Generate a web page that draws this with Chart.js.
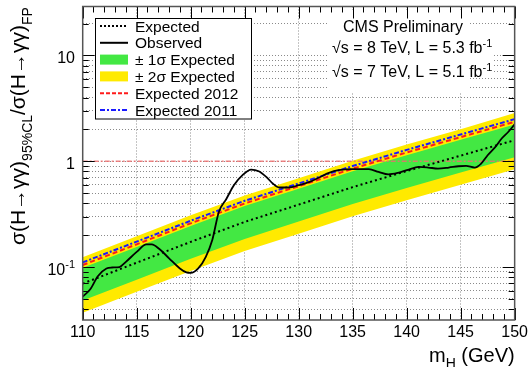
<!DOCTYPE html>
<html>
<head>
<meta charset="utf-8">
<script src="https://cdn.jsdelivr.net/npm/chart.js@4.4.1/dist/chart.umd.min.js"></script>
<style>
  body { margin: 0; background: #fff; }
  canvas { display: block; }
</style>
</head>
<body>
<canvas id="limitPlot" width="531" height="367"></canvas>
<script>
const FONT = '"Liberation Sans", Arial, Helvetica, sans-serif';

// expected limit + bands, read at 5 GeV steps
const expMass = [110, 115, 120, 125, 130, 135, 140, 145, 150];
const expMedian = [0.0698, 0.110, 0.173, 0.267, 0.389, 0.569, 0.807, 1.13, 1.58];
const expPlus2 = [0.124, 0.195, 0.308, 0.474, 0.692, 1.01, 1.44, 2.01, 2.85];
const expPlus1 = [0.0986, 0.155, 0.244, 0.377, 0.55, 0.804, 1.14, 1.60, 2.23];
const expMinus1 = [0.0483, 0.076, 0.1197, 0.1845, 0.269, 0.394, 0.558, 0.783, 1.09];
const expMinus2 = [0.0371, 0.0583, 0.0918, 0.1416, 0.2065, 0.302, 0.4285, 0.601, 0.838];
const exp2012 = [0.1045, 0.164, 0.259, 0.399, 0.582, 0.851, 1.21, 1.69, 2.36];
const exp2011 = [0.1107, 0.174, 0.274, 0.423, 0.617, 0.902, 1.28, 1.79, 2.50];

// observed limit
const obsMass = [110.0, 110.7, 111.4, 112.2, 112.7, 113.4, 114.0, 115.0, 115.9, 116.4,
  117.1, 118.0, 119.0, 119.6, 120.0, 120.7, 121.4, 122.0, 122.6, 123.3,
  124.0, 124.8, 125.6, 126.3, 127.0, 127.6, 128.2, 129.1, 130.0, 131.0,
  131.9, 132.8, 133.7, 135.0, 136.5, 137.4, 138.3, 139.2, 140.2, 141.1,
  142.0, 142.9, 143.9, 144.8, 145.5, 146.3, 146.9, 147.5, 148.2, 148.8,
  149.4, 150.0];
const obsLimit = [0.0525, 0.0616, 0.082, 0.097, 0.099, 0.100, 0.112, 0.139, 0.164, 0.164,
  0.148, 0.121, 0.097, 0.089, 0.088, 0.097, 0.125, 0.18, 0.33, 0.44,
  0.594, 0.738, 0.835, 0.805, 0.711, 0.616, 0.565, 0.565, 0.594, 0.638,
  0.702, 0.776, 0.823, 0.841, 0.841, 0.792, 0.75, 0.776, 0.835, 0.883,
  0.872, 0.853, 0.872, 0.897, 0.903, 0.872, 0.951, 1.14, 1.36, 1.64,
  1.89, 2.23];

// y = 1 reference line
const unityMass = [110, 150];
const unityLimit = [1, 1];

const xTickLabels = ['110', '115', '120', '125', '130', '135', '140', '145', '150'];
const yMajor = [0.1, 1, 10];
const yMajorLabels = [['10', '-1'], ['1', ''], ['10', '']];
const legendLabels = ['Expected', 'Observed', '\u00b1 1\u03c3 Expected', '\u00b1 2\u03c3 Expected', 'Expected 2012', 'Expected 2011'];

const Y_MIN = 0.0316, Y_MAX = 29;
const GREEN = '#43e843', YELLOW = '#ffea00';

const pts = (xs, ys) => xs.map((x, i) => ({ x: x, y: ys[i] }));

function richText(ctx, parts, x, y) {
  let cx = x;
  parts.forEach(([t, size, dy]) => {
    ctx.font = size + 'px ' + FONT;
    ctx.fillText(t, cx, y + dy);
    cx += ctx.measureText(t).width;
  });
  return cx - x;
}
function richWidth(ctx, parts) {
  let w = 0;
  parts.forEach(([t, size]) => { ctx.font = size + 'px ' + FONT; w += ctx.measureText(t).width; });
  return w;
}

const decorPlugin = {
  id: 'decor',
  beforeDatasetsDraw(chart) {
    const ctx = chart.ctx;
    // white area behind the CMS label
    ctx.save();
    ctx.fillStyle = '#fff';
    ctx.fillRect(328, 10, 142, 82);
    ctx.fillRect(328, 37, 165, 40);
    ctx.restore();
  },
  afterDatasetsDraw(chart) {
    const ctx = chart.ctx;
    const a = chart.chartArea;
    const xs = chart.scales.x, ys = chart.scales.y;
    ctx.save();
    ctx.strokeStyle = '#000';
    ctx.lineWidth = 1;
    ctx.beginPath();
    for (let m = 110; m <= 150; m++) {
      const px = Math.round(xs.getPixelForValue(m)) + 0.5;
      const len = m % 5 === 0 ? 12 : 6;
      ctx.moveTo(px, a.bottom); ctx.lineTo(px, a.bottom - len);
      ctx.moveTo(px, a.top); ctx.lineTo(px, a.top + len);
    }
    ys.ticks.forEach(t => {
      const py = Math.round(ys.getPixelForValue(t.value)) + 0.5;
      const major = yMajor.some(v => Math.abs(v - t.value) < 1e-9);
      const len = major ? 12 : 6;
      ctx.moveTo(a.left, py); ctx.lineTo(a.left + len, py);
      ctx.moveTo(a.right, py); ctx.lineTo(a.right - len, py);
    });
    ctx.stroke();
    ctx.strokeStyle = '#555';
    ctx.lineWidth = 1.5;
    ctx.strokeRect(a.left, a.top, a.right - a.left, a.bottom - a.top);
    ctx.restore();
  },
  afterDraw(chart) {
    const ctx = chart.ctx;
    const a = chart.chartArea;
    const ys = chart.scales.y;
    ctx.save();
    ctx.fillStyle = '#000';
    ctx.textBaseline = 'alphabetic';

    // y tick labels with superscripts
    yMajor.forEach((v, i) => {
      const [base, sup] = yMajorLabels[i];
      const py = ys.getPixelForValue(v);
      const parts = [[base, 16, 0], [sup, 11, -7]];
      const w = richWidth(ctx, parts);
      richText(ctx, parts, 75 - w, py + 7.5);
    });

    // y axis title
    ctx.save();
    ctx.translate(25, 245);
    ctx.rotate(-Math.PI / 2);
    richText(ctx, [['\u03c3(H\u2192\u03b3\u03b3)', 21, 0], ['95%CL', 14, 7], ['/\u03c3(H\u2192\u03b3\u03b3)', 21, 0], ['FP', 14, 7]], 0, 0);
    ctx.restore();

    // x axis title
    const xt = [['m', 20, 0], ['H', 14, 6], [' (GeV)', 20, 0]];
    richText(ctx, xt, a.right - richWidth(ctx, xt), 361.5);

    // CMS label
    ctx.font = '16px ' + FONT;
    ctx.textAlign = 'center';
    ctx.fillText('CMS Preliminary', 403, 31.5);
    ctx.textAlign = 'left';
    richText(ctx, [['\u221as = 8 TeV, L = 5.3 fb', 16, 0], ['-1', 11, -6]], 332, 53);
    richText(ctx, [['\u221as = 7 TeV, L = 5.1 fb', 16, 0], ['-1', 11, -6]], 332, 77);

    // legend
    ctx.fillStyle = '#fff';
    ctx.fillRect(95.5, 18.5, 156, 100.5);
    ctx.strokeStyle = '#000';
    ctx.lineWidth = 1;
    ctx.strokeRect(95.5, 18.5, 156, 100.5);
    legendLabels.forEach((label, i) => {
      const cy = 26 + i * 16.8;
      ctx.save();
      if (i === 2 || i === 3) {
        ctx.fillStyle = i === 2 ? GREEN : YELLOW;
        ctx.fillRect(100, cy - 5, 28, 10);
      } else {
        ctx.lineWidth = 2;
        ctx.strokeStyle = i === 4 ? '#ff1a1a' : i === 5 ? '#1a1aff' : '#000';
        ctx.setLineDash(i === 0 ? [2, 2] : i === 4 ? [4, 2] : i === 5 ? [5, 2, 2, 2] : []);
        ctx.beginPath();
        ctx.moveTo(100, cy); ctx.lineTo(128, cy);
        ctx.stroke();
      }
      ctx.restore();
      ctx.fillStyle = '#000';
      ctx.font = '15.5px ' + FONT;
      ctx.fillText(label, 135, cy + 5.5);
    });
    ctx.restore();
  }
};

Chart.defaults.font.family = FONT;
Chart.defaults.color = '#000';

new Chart(document.getElementById('limitPlot'), {
  type: 'line',
  data: {
    datasets: [
      { label: '+2 sigma', data: pts(expMass, expPlus2), fill: 1, backgroundColor: YELLOW, borderWidth: 0, order: 10 },
      { label: '-2 sigma', data: pts(expMass, expMinus2), fill: false, borderWidth: 0, order: 10 },
      { label: '+1 sigma', data: pts(expMass, expPlus1), fill: 3, backgroundColor: GREEN, borderWidth: 0, order: 9 },
      { label: '-1 sigma', data: pts(expMass, expMinus1), fill: false, borderWidth: 0, order: 9 },
      { label: 'Unity', data: pts(unityMass, unityLimit), borderColor: 'rgba(235,110,110,0.85)', borderWidth: 1.5, borderDash: [5, 2, 2, 2], fill: false, order: 5 },
      { label: 'Expected', data: pts(expMass, expMedian), borderColor: '#000', borderWidth: 2, borderDash: [2, 3], fill: false, order: 4 },
      { label: 'Expected 2012', data: pts(expMass, exp2012), borderColor: '#ff1a1a', borderWidth: 2, borderDash: [5, 3], fill: false, order: 3 },
      { label: 'Expected 2011', data: pts(expMass, exp2011), borderColor: '#1a1aff', borderWidth: 2, borderDash: [5, 2, 2, 2], fill: false, order: 2 },
      { label: 'Observed', data: pts(obsMass, obsLimit), borderColor: '#000', borderWidth: 1.8, cubicInterpolationMode: 'monotone', fill: false, order: 1 }
    ]
  },
  options: {
    responsive: false,
    animation: false,
    devicePixelRatio: 1,
    layout: { padding: { top: 6.5, right: 14.5, left: 0, bottom: 0 } },
    elements: { point: { radius: 0 } },
    plugins: { legend: { display: false }, tooltip: { enabled: false } },
    scales: {
      x: {
        type: 'linear',
        min: 110,
        max: 150,
        afterBuildTicks: (scale) => {
          scale.ticks = xTickLabels.map(t => ({ value: Number(t) }));
        },
        afterFit: (scale) => { scale.height = 47; },
        ticks: {
          autoSkip: false,
          maxRotation: 0,
          padding: 3,
          font: { size: 16 },
          callback: (v) => String(v)
        },
        grid: { color: '#8a8a8a', lineWidth: 1, drawTicks: false },
        border: { display: false, dash: [1, 2] }
      },
      y: {
        type: 'logarithmic',
        min: Y_MIN,
        max: Y_MAX,
        afterBuildTicks: (scale) => {
          const t = [];
          [0.01, 0.1, 1, 10].forEach(d => {
            for (let k = 1; k < 10; k++) {
              const v = d * k;
              if (v >= Y_MIN && v <= Y_MAX) t.push({ value: v });
            }
          });
          scale.ticks = t;
        },
        afterFit: (scale) => { scale.width = 82.7; },
        ticks: { display: false },
        grid: { color: '#8a8a8a', lineWidth: 1, drawTicks: false },
        border: { display: false, dash: [1, 2] }
      }
    }
  },
  plugins: [decorPlugin]
});
</script>
</body>
</html>
